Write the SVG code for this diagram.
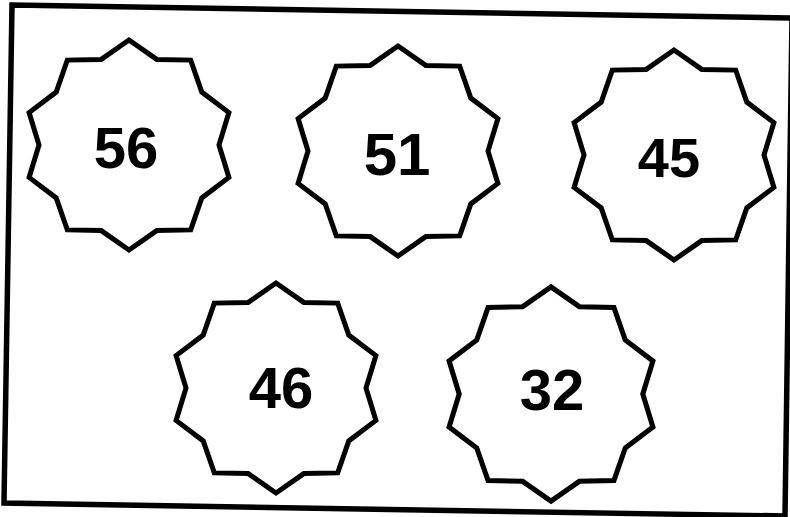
<svg xmlns="http://www.w3.org/2000/svg" xmlns:xlink="http://www.w3.org/1999/xlink" width="790" height="517" viewBox="0 0 790 517">
<style>
.star{fill:#fff;stroke:#000;stroke-width:5;stroke-linejoin:miter}
.frame{fill:#fff;stroke:#000;stroke-width:5.5}
.sans{font-family:"Liberation Sans",Arial,sans-serif;font-weight:bold;fill:#000;text-anchor:middle}
</style>
<defs>
<path id="star" d="M0,-105 L27.8,-85.6 L61.7,-84.9 L72.8,-52.9 L99.9,-32.4 L90,0 L99.9,32.4 L72.8,52.9 L61.7,84.9 L27.8,85.6 L0,105 L-27.8,85.6 L-61.7,84.9 L-72.8,52.9 L-99.9,32.4 L-90,0 L-99.9,-32.4 L-72.8,-52.9 L-61.7,-84.9 L-27.8,-85.6 Z"/>
</defs>
<rect width="790" height="517" fill="#fff"/>
<polygon class="frame" points="12,5 792,18 785,516 4,503"/>
<g id="connectors"/>
<g id="node-56">
<use xlink:href="#star" href="#star" class="star" transform="translate(129,145)"/>
<text class="sans" x="126" y="168" font-size="58">56</text>
</g>
<g id="node-51">
<use xlink:href="#star" href="#star" class="star" transform="translate(398,151)"/>
<text class="sans" x="397" y="175" font-size="60">51</text>
</g>
<g id="node-45">
<use xlink:href="#star" href="#star" class="star" transform="translate(674,155)"/>
<text class="sans" x="669" y="177" font-size="56">45</text>
</g>
<g id="node-46">
<use xlink:href="#star" href="#star" class="star" transform="translate(276,388)"/>
<text class="sans" x="281" y="408" font-size="58">46</text>
</g>
<g id="node-32">
<use xlink:href="#star" href="#star" class="star" transform="translate(551,394) scale(1.02)"/>
<text class="sans" x="552" y="410" font-size="58">32</text>
</g>
</svg>
